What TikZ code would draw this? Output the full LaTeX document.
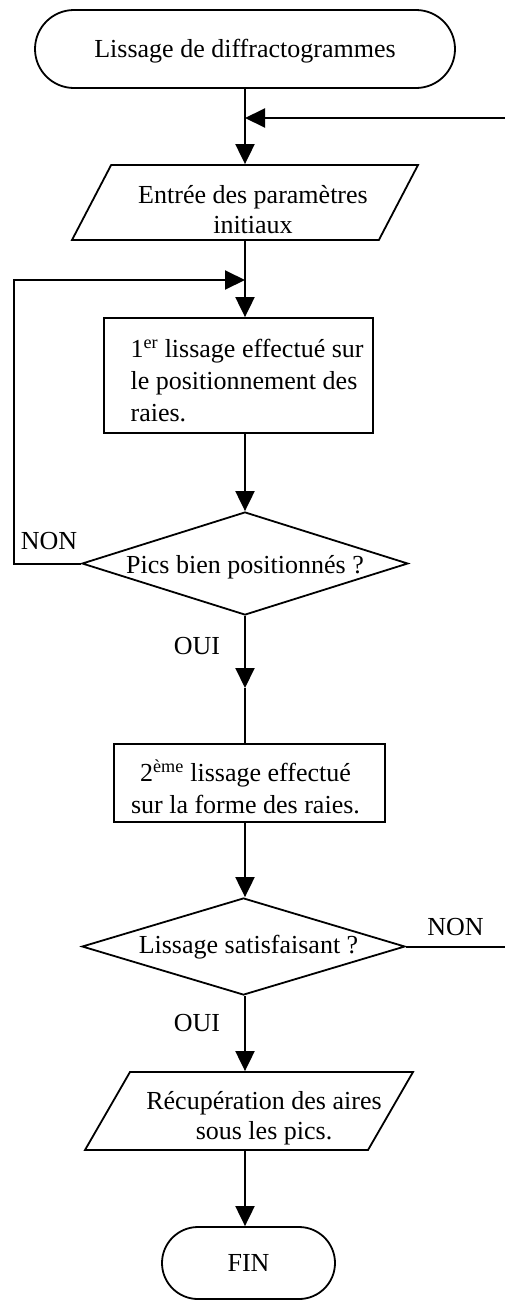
\documentclass[tikz,border=0pt]{standalone}
\usepackage{fontspec}
\setmainfont{Liberation Serif}
\usetikzlibrary{arrows.meta,shapes.geometric,shapes.misc}
\newcommand{\shl}[3]{\hspace*{#1}\raisebox{-#2}[\height][\depth]{#3}\hspace*{-#1}}
\begin{document}
\begin{tikzpicture}[x=1pt,y=-1pt,
  every node/.style={font=\fontsize{26}{32}\selectfont},
  shapeline/.style={draw, line width=1.8pt},
  term/.style={shapeline, rounded rectangle, inner sep=0pt},
  proc/.style={shapeline, rectangle, inner sep=0pt},
  io/.style={shapeline, trapezium, trapezium stretches body, inner sep=0pt, align=center, font=\fontsize{26}{30}\selectfont},
  dec/.style={shapeline, diamond, inner sep=0pt},
  conn/.style={line width=2pt},
  arr/.style={conn, -{Triangle[length=20pt,width=19pt]}},
  lbl/.style={inner sep=0pt}
]
\fill[white] (0,0) rectangle (505,1301);
\useasboundingbox (0,0) rectangle (505,1301);
\coordinate (axis) at (245,0);

\node[term, minimum width=420pt, minimum height=78pt] (start) at (245,49) {\shl{0pt}{2pt}{Lissage de diffractogrammes}};
\node[io, trapezium left angle=51, trapezium right angle=129, minimum width=346pt, minimum height=75pt] (p1) at (245,202.5) {\shl{8pt}{7pt}{Entrée des paramètres}\\\shl{8pt}{7pt}{initiaux}};
\node[proc, minimum width=269pt, minimum height=115pt, align=left] (b1) at (238.5,375.5) {\shl{11pt}{5pt}{1\textsuperscript{er} lissage effectué sur}\\\shl{11pt}{5pt}{le positionnement des}\\\shl{11pt}{5pt}{raies.}};
\node[dec, minimum width=326pt, minimum height=103pt, aspect=3.17, text height=19pt, text depth=0pt] (d1) at (245,563.5) {Pics bien positionnés ?};
\node[proc, minimum width=271pt, minimum height=78pt, align=center] (b2) at (249.5,783) {\shl{-4pt}{4pt}{2\textsuperscript{ème} lissage effectué}\\\shl{-4pt}{4pt}{sur la forme des raies.}};
\node[dec, minimum width=323pt, minimum height=97pt, aspect=3.33, text height=13pt, text depth=0pt] (d2) at (243.5,946.5) {\shl{5pt}{0pt}{Lissage satisfaisant ?}};
\node[io, trapezium left angle=50, trapezium right angle=130, minimum width=328pt, minimum height=78pt] (p2) at (249,1111) {\shl{15pt}{7pt}{Récupération des aires}\\\shl{15pt}{7pt}{sous les pics.}};
\node[term, minimum width=173pt, minimum height=72pt] (fin) at (248.5,1263) {FIN};

\node[lbl] (non1) at (49,541.5) {NON};
\node[lbl] (oui1) at (197,646) {OUI};
\node[lbl] (non2) at (455.5,927.5) {NON};
\node[lbl] (oui2) at (197,1023) {OUI};

\coordinate (j1) at (245,118);
\coordinate (rt) at (506,118);
\coordinate (j2) at (245,280);
\coordinate (lt) at (14,280);
\coordinate (m1) at (245,688);

\draw[arr] (start.south -| axis) -- (p1.north -| axis);
\draw[arr] (p1.south -| axis) -- (b1.north -| axis);
\draw[arr] (b1.south -| axis) -- (d1.north -| axis);
\draw[arr] (d1.south -| axis) -- (m1);
\draw[conn] (m1) -- (b2.north -| axis);
\draw[arr] (b2.south -| axis) -- (d2.north -| axis);
\draw[arr] (d2.south -| axis) -- (p2.north -| axis);
\draw[arr] (p2.south -| axis) -- (fin.north -| axis);
\draw[arr] (d1.west) -| (lt) -- (j2);
\draw[arr] (d2.east) -| (rt) -- (j1);
\end{tikzpicture}
\end{document}
